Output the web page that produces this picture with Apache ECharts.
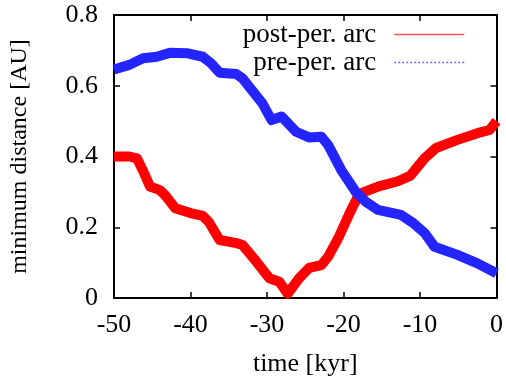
<!DOCTYPE html>
<html>
<head>
<meta charset="utf-8">
<script src="https://cdn.jsdelivr.net/npm/echarts@6/dist/echarts.min.js"></script>
</head>
<body style="margin:0">
<div id="chart" style="width:506px;height:383px;"></div>
<script>
// time [kyr] and minimum distance [AU]
const postTime = [-50, -48, -47, -46, -45.3, -44, -43.3, -42, -40, -38.4, -37.6, -36.2, -34, -33.2, -31.4, -29.7, -28.4, -27.3, -25.8, -24.5, -22.9, -22, -20.6, -19, -18, -17.6, -15.5, -12.9, -11.3, -9.4, -7.9, -5.1, -2.5, -0.9, 0];
const postDist = [0.40, 0.40, 0.395, 0.35, 0.315, 0.305, 0.29, 0.254, 0.24, 0.232, 0.215, 0.164, 0.155, 0.150, 0.103, 0.056, 0.046, 0.012, 0.056, 0.085, 0.093, 0.117, 0.173, 0.249, 0.292, 0.297, 0.315, 0.33, 0.345, 0.395, 0.424, 0.447, 0.466, 0.475, 0.50];

const preTime = [-50, -48, -46.2, -44.4, -42.7, -40.5, -38.4, -37.3, -36.2, -34, -33.2, -30.6, -29.4, -28.1, -26.2, -24.5, -22.9, -22, -20.3, -18.4, -17.1, -15.5, -12.5, -10.9, -9.4, -8.1, -5.1, -2.5, 0];
const preDist = [0.646, 0.659, 0.678, 0.682, 0.693, 0.692, 0.682, 0.663, 0.637, 0.633, 0.621, 0.55, 0.503, 0.513, 0.47, 0.454, 0.456, 0.432, 0.362, 0.30, 0.272, 0.249, 0.235, 0.212, 0.184, 0.145, 0.122, 0.098, 0.07];

const xTicks = [-50, -40, -30, -20, -10, 0];
const yTicks = [0, 0.2, 0.4, 0.6, 0.8];

const font = 'Liberation Serif';
const pair = (xs, ys) => xs.map((x, i) => [x, ys[i]]);

const lineAxis = { show: true, onZero: false, lineStyle: { color: '#000', width: 2 } };
const tick = { show: true, inside: true, length: 6, lineStyle: { color: '#000', width: 1.5 } };

const option = {
    animation: false,
    grid: { left: 114, right: 7, top: 15, bottom: 85 },
    legend: {
        orient: 'vertical',
        right: 36,
        top: 16,
        align: 'right',
        itemWidth: 70,
        itemHeight: 14,
        itemGap: 1,
        textStyle: { fontFamily: font, fontSize: 27, color: '#000', padding: [0, 13, 0, 0] },
        data: [
            { name: 'post-per. arc', itemStyle: { opacity: 0 }, lineStyle: { color: '#ff5050', width: 1.5, type: 'solid' } },
            { name: 'pre-per. arc', itemStyle: { opacity: 0 }, lineStyle: { color: '#6a6aff', width: 1.5, type: [2, 2] } }
        ]
    },
    xAxis: [{
        type: 'value', min: xTicks[0], max: xTicks[xTicks.length - 1], interval: 10,
        name: 'time [kyr]', nameLocation: 'middle', nameGap: 53,
        nameTextStyle: { fontFamily: font, fontSize: 26, color: '#000' },
        axisLine: lineAxis, axisTick: tick, splitLine: { show: false },
        axisLabel: { fontFamily: font, fontSize: 26, color: '#000', margin: 14 }
    }, {
        type: 'value', position: 'top', min: xTicks[0], max: xTicks[xTicks.length - 1], interval: 10,
        axisLine: lineAxis, axisTick: tick, splitLine: { show: false }, axisLabel: { show: false }
    }],
    yAxis: [{
        type: 'value', min: yTicks[0], max: yTicks[yTicks.length - 1], interval: 0.2,
        name: 'minimum distance [AU]', nameLocation: 'middle', nameGap: 82,
        nameTextStyle: { fontFamily: font, fontSize: 24, color: '#000' },
        axisLine: lineAxis, axisTick: tick, splitLine: { show: false },
        axisLabel: { fontFamily: font, fontSize: 26, color: '#000', margin: 16, formatter: v => String(+v.toFixed(1)) }
    }, {
        type: 'value', position: 'right', min: yTicks[0], max: yTicks[yTicks.length - 1], interval: 0.2,
        axisLine: lineAxis, axisTick: tick, splitLine: { show: false }, axisLabel: { show: false }
    }],
    series: [{
        name: 'post-per. arc', type: 'line', showSymbol: false, symbol: 'none',
        data: pair(postTime, postDist),
        lineStyle: { color: '#ff0000', width: 10, join: 'round', cap: 'butt' },
        itemStyle: { color: '#ff0000' }
    }, {
        name: 'pre-per. arc', type: 'line', showSymbol: false, symbol: 'none',
        data: pair(preTime, preDist),
        lineStyle: { color: '#2424ff', width: 10, join: 'round', cap: 'butt' },
        itemStyle: { color: '#2424ff' }
    }]
};

const chart = echarts.init(document.getElementById('chart'));
chart.setOption(option);
</script>
</body>
</html>
